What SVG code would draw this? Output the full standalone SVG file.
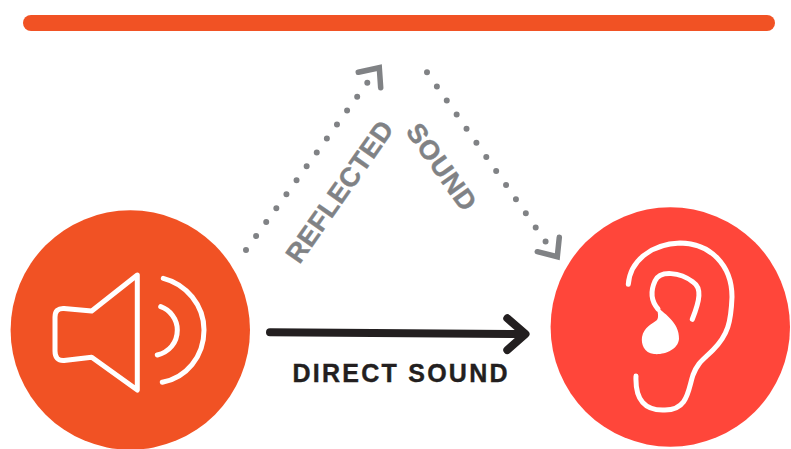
<svg xmlns="http://www.w3.org/2000/svg" width="791" height="449" viewBox="0 0 791 449">
<style>
.w{fill:none;stroke:#fff;stroke-width:5;stroke-linecap:round;stroke-linejoin:round}
.dot{fill:none;stroke:#808285;stroke-width:6;stroke-linecap:round;stroke-dasharray:0 17.22}
.head{fill:none;stroke:#808285;stroke-width:5.5;stroke-linecap:round;stroke-linejoin:miter}
.g{font-family:"Liberation Sans",Arial,sans-serif;font-weight:700;font-size:27px;fill:#808285;stroke:#808285;stroke-width:.4}
</style>
<rect id="bar" x="23" y="15" width="752" height="16" rx="8" fill="#f15224"/>
<g id="speaker">
<circle cx="130.3" cy="330" r="119.7" fill="#f15224"/>
<path class="w" d="M137.3 275 91.7 311 64 308.5Q55 308 55 317V351Q55 361 64 360.5L91.7 357.3 137.3 390Z"/>
<path class="w" d="M163.3 278.3C186 284 204 305 204 330C204 357 186 378 162.3 382.3"/>
<path class="w" d="M160.7 306.7C170 310 177.3 319 177.3 330C177.3 343 169 352 157.3 355"/>
</g>
<g id="ear">
<circle cx="670.3" cy="327" r="119.7" fill="#ff463a"/>
<path class="w" d="M628.3 284.3C630 262 650 244 680 243C710 243 732 265 732 297C731 322 728 335 713 350C703 360 698 362 693 375C688 390 688 410 665 410C645 411 635 400 636 376"/>
<path class="w" d="M692.3 319.3C700 300 702 288 693 282C680 272 660 270 655 281C650 292 652 302 658 309"/>
<path d="M656 306C662 312 680 322 679 339C678 350 664 355 654 354C644 353 641 344 642 337C644 327 652 324 657 320C659 317 658 312 656 306Z" fill="#fff"/>
</g>
<g id="connectors">
<path class="dot" d="M246 250 367.3 82.7"/>
<path class="head" d="M358.3 72.3 379.3 67.7 380.7 87.7"/>
<path class="dot" d="M427 72.3 545.7 241.7"/>
<path class="head" d="M537.3 251.7 557.3 256.7 559.3 237.3"/>
<path d="M270 332.3 525 334M507.3 318.3 525.5 334 507.3 350" fill="none" stroke="#231f20" stroke-width="8" stroke-linecap="round" stroke-linejoin="round"/>
</g>
<text class="g" transform="translate(299.5 265) rotate(-55)" textLength="166">REFLECTED</text>
<text class="g" transform="translate(405 131.5) rotate(54.5)" textLength="100">SOUND</text>
<text x="292.5" y="381.7" font-family="'Liberation Sans',Arial,sans-serif" font-weight="700" font-size="25" fill="#231f20" stroke="#231f20" stroke-width="0.4" textLength="215">DIRECT SOUND</text>
</svg>
